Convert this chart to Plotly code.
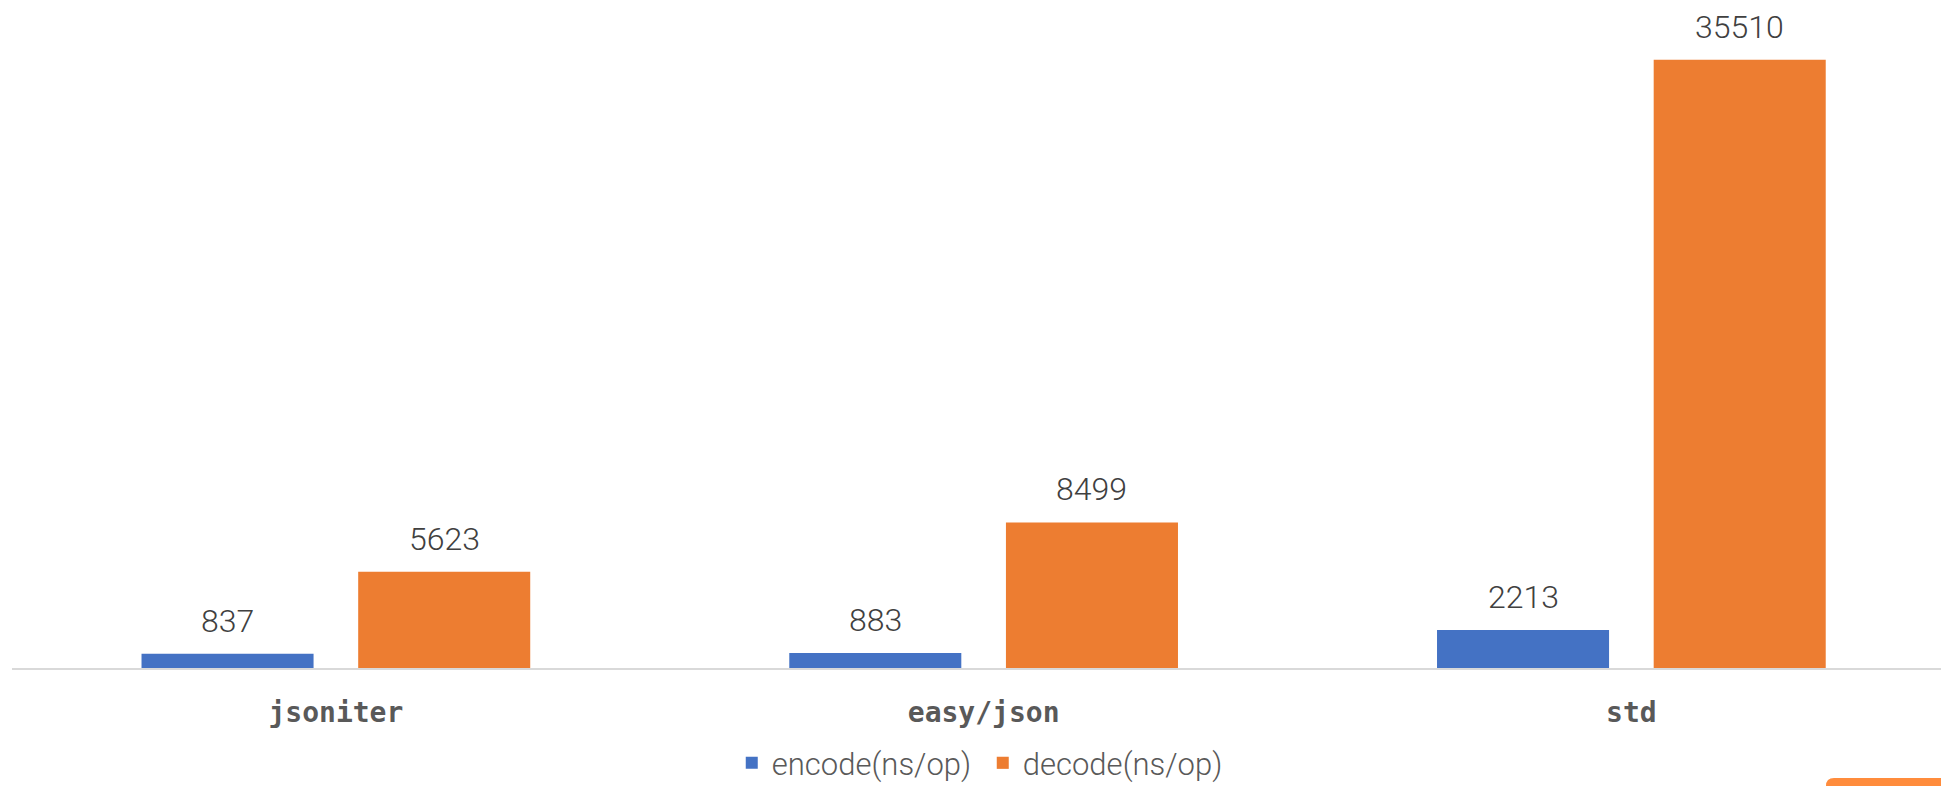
import plotly.graph_objects as go

categories = ["jsoniter", "easy/json", "std"]
encode_vals = [837, 883, 2213]
decode_vals = [5623, 8499, 35510]
series_names = ["encode(ns/op)", "decode(ns/op)"]
series_colors = ["#4472C4", "#ED7D31"]

W, H = 1941, 786
ML, MR, MT, MB = 12, 0, 0, 118
plot_w = W - ML - MR
plot_h = H - MT - MB

x_range = [-0.5, 2.478]
y_max = 39000
bargap = 0.331
bargroupgap = 0.206

cat_px = plot_w / (x_range[1] - x_range[0])
slot_px = cat_px * (1 - bargap) / 2
offsets = [-slot_px / 2, slot_px / 2]

label_font = dict(family="Roboto, sans-serif", size=32, color="#404040", weight=300)

fig = go.Figure()
for name, vals, col in zip(series_names, [encode_vals, decode_vals], series_colors):
    fig.add_trace(go.Bar(name=name, x=categories, y=vals, marker=dict(color=col, line=dict(width=0))))

annotations = []
for vals, off in zip([encode_vals, decode_vals], offsets):
    for c, v in zip(categories, vals):
        annotations.append(dict(x=c, y=v, xref="x", yref="y", text=str(v), showarrow=False,
                                xshift=off, yshift=12, yanchor="bottom", xanchor="center",
                                font=label_font))

# bottom-right orange widget
px0, py0, px1, py1 = 1826, 778, 1950, 800
r = 8
def xp(p):
    return (p - ML) / plot_w
def yp(p):
    return (MT + plot_h - p) / plot_h
path = (f"M {xp(px0)},{yp(py1)} L {xp(px0)},{yp(py0 + r)} "
        f"Q {xp(px0)},{yp(py0)} {xp(px0 + r)},{yp(py0)} "
        f"L {xp(px1)},{yp(py0)} L {xp(px1)},{yp(py1)} Z")

fig.update_layout(
    width=W, height=H,
    margin=dict(l=ML, r=MR, t=MT, b=MB, pad=0),
    paper_bgcolor="white", plot_bgcolor="white",
    barmode="group", bargap=bargap, bargroupgap=bargroupgap,
    xaxis=dict(range=x_range, showgrid=False, showline=True, linecolor="#D9D9D9", linewidth=2,
               ticks="", tickfont=dict(family="DejaVu Sans Mono", size=28, color="#595959", weight="bold"),
               ticklabelstandoff=18, zeroline=False, fixedrange=True),
    yaxis=dict(range=[0, y_max], visible=False, showgrid=False, zeroline=False),
    legend=dict(orientation="h", xref="container", yref="container", x=0.377, y=0.029,
                xanchor="left", yanchor="middle", entrywidth=206,
                font=dict(family="Roboto, sans-serif", size=31, color="#595959", weight=300)),
    annotations=annotations,
    shapes=[dict(type="path", path=path, xref="paper", yref="paper", fillcolor="#FF8C3C",
                 line=dict(width=0), layer="above")],
)

fig.write_html("out.html")
